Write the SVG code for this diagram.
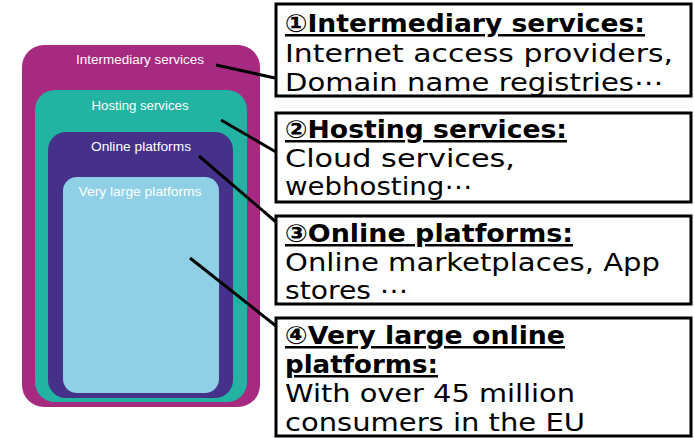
<svg xmlns="http://www.w3.org/2000/svg" width="694" height="438" viewBox="0 0 694 438">
<style>
.inner{font-family:"Liberation Sans",Arial,sans-serif;font-size:12px;fill:#ffffff;text-anchor:middle}
.box{fill:#ffffff;stroke:#000000;stroke-width:3}
.t{font-family:"DejaVu Sans","Noto Sans CJK JP",sans-serif;font-size:25px;fill:#000000}
.b{font-weight:bold;text-decoration:underline}
.conn line{stroke:#000000;stroke-width:3}
</style>
<rect width="694" height="438" fill="#ffffff"/>
<g id="intermediary">
<rect x="22" y="45" width="238" height="362" rx="22" fill="#A72A81"/>
<text class="inner" x="140" y="64" textLength="128" lengthAdjust="spacingAndGlyphs">Intermediary services</text>
</g>
<g id="hosting">
<rect x="35" y="90" width="212" height="312" rx="20" fill="#22B3A2"/>
<text class="inner" x="140" y="110" textLength="97" lengthAdjust="spacingAndGlyphs">Hosting services</text>
</g>
<g id="online">
<rect x="48" y="132" width="185" height="266" rx="18" fill="#45318A"/>
<text class="inner" x="141" y="151" textLength="100" lengthAdjust="spacingAndGlyphs">Online platforms</text>
</g>
<g id="vlop">
<rect x="63" y="177" width="156" height="216" rx="14" fill="#8FD0E7"/>
<text class="inner" x="140" y="196" textLength="123" lengthAdjust="spacingAndGlyphs">Very large platforms</text>
</g>
<g class="conn" id="connectors">
<line x1="216" y1="65" x2="275" y2="78"/>
<line x1="221" y1="120" x2="276" y2="152"/>
<line x1="199" y1="156" x2="276" y2="222"/>
<line x1="190" y1="258" x2="276" y2="326"/>
</g>
<g id="box1">
<rect class="box" x="276" y="4" width="415" height="92"/>
<text class="t b" x="285" y="32" textLength="360" lengthAdjust="spacingAndGlyphs">①Intermediary services:</text>
<text class="t" x="285" y="62" textLength="388" lengthAdjust="spacingAndGlyphs">Internet access providers,</text>
<text class="t" x="285" y="91" textLength="378" lengthAdjust="spacingAndGlyphs">Domain name registries⋯</text>
</g>
<g id="box2">
<rect class="box" x="276" y="113" width="415" height="89"/>
<text class="t b" x="285" y="138" textLength="282" lengthAdjust="spacingAndGlyphs">②Hosting services:</text>
<text class="t" x="285" y="167" textLength="230" lengthAdjust="spacingAndGlyphs">Cloud services,</text>
<text class="t" x="285" y="195" textLength="187" lengthAdjust="spacingAndGlyphs">webhosting⋯</text>
</g>
<g id="box3">
<rect class="box" x="276" y="216" width="415" height="88"/>
<text class="t b" x="285" y="242" textLength="288" lengthAdjust="spacingAndGlyphs">③Online platforms:</text>
<text class="t" x="285" y="271" textLength="375" lengthAdjust="spacingAndGlyphs">Online marketplaces, App</text>
<text class="t" x="285" y="299" textLength="123" lengthAdjust="spacingAndGlyphs">stores ⋯</text>
</g>
<g id="box4">
<rect class="box" x="276" y="318" width="415" height="118"/>
<text class="t b" x="285" y="344" textLength="280" lengthAdjust="spacingAndGlyphs">④Very large online</text>
<text class="t b" x="285" y="373" textLength="153" lengthAdjust="spacingAndGlyphs">platforms:</text>
<text class="t" x="285" y="402" textLength="290" lengthAdjust="spacingAndGlyphs">With over 45 million</text>
<text class="t" x="285" y="431" textLength="300" lengthAdjust="spacingAndGlyphs">consumers in the EU</text>
</g>
</svg>
